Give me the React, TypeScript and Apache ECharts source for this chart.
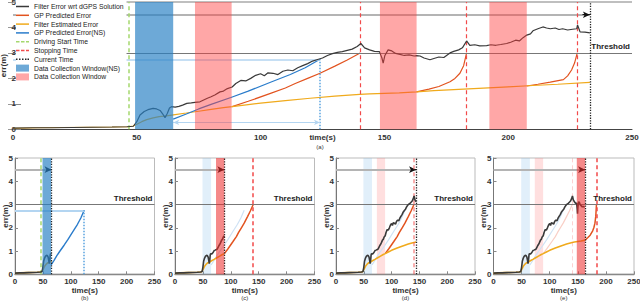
import React, { useEffect, useRef } from 'react';
import * as echarts from 'echarts';

type Pt = [number, number];

// ---- data (time in s, error in m) ----
const filterError: Pt[] = [
  [0, 0.05], [8, 0.06], [16, 0.06], [24, 0.07], [32, 0.08], [40, 0.09], [46, 0.1], [48.6, 0.12], [50, 0.3],
  [51.3, 0.56], [53, 0.7], [54.5, 0.77], [56.6, 0.82], [58, 0.8], [59.4, 0.74], [60.5, 0.6], [61.4, 0.46],
  [62.3, 0.62], [63.2, 0.84], [64, 0.89], [65.5, 0.87], [67, 0.9], [68.5, 0.95], [70.2, 1.02], [72, 1.04],
  [73.5, 1.06], [75.5, 1.08], [77, 1.15], [78.5, 1.22], [80, 1.28], [81.5, 1.35], [83.6, 1.47], [85, 1.5],
  [86.6, 1.6], [88.5, 1.66], [90, 1.8], [92, 1.92], [94, 1.9], [96, 2.0], [98, 2.12], [100, 2.18], [101.5, 2.1],
  [103, 2.22], [105, 2.2], [107, 2.15], [109, 2.28], [111, 2.33], [113, 2.3], [115, 2.42], [117, 2.5],
  [119, 2.58], [121, 2.68], [123, 2.74], [125, 2.8], [127, 2.9], [129, 2.97], [131, 3.02], [133, 3.05],
  [135, 3.1], [137, 3.15], [139, 3.25], [140.5, 3.37], [142, 3.2], [144, 3.12], [146, 3.06], [148, 3.05],
  [149, 2.8], [149.5, 2.6], [150.2, 2.9], [151.5, 3.12], [153, 3.08], [154.5, 2.98], [156.3, 2.94], [158, 2.9],
  [160, 2.92], [162, 2.88], [163, 2.89], [164.4, 2.88], [166, 2.8], [168.4, 2.73], [170, 2.78], [172, 2.84],
  [174, 2.82], [176.5, 3.0], [178, 3.06], [180, 3.12], [181.5, 3.2], [183.2, 3.47], [184.5, 3.3], [186.5, 3.32],
  [188.5, 3.28], [191.3, 3.29], [193, 3.32], [195, 3.3], [197, 3.33], [199.4, 3.37], [201, 3.42], [203, 3.5],
  [204.5, 3.47], [206, 3.6], [207.5, 3.7], [209, 3.75], [210, 3.87], [212, 3.95], [214, 4.02], [215.5, 3.98],
  [217, 3.95], [219, 3.98], [220.5, 3.92], [222, 3.95], [224, 3.9], [226, 3.93], [227.7, 3.95], [228, 4.1],
  [229, 3.83], [231, 3.82], [233, 3.79],
];
const filterEstimate: Pt[] = [
  [0, 0.04], [10, 0.06], [20, 0.07], [30, 0.08], [40, 0.09], [46.6, 0.1], [48.6, 0.13], [50, 0.2], [52, 0.3],
  [54, 0.38], [56.6, 0.45], [59, 0.5], [62, 0.53], [65.5, 0.58], [70, 0.64], [75, 0.71], [80, 0.78], [85, 0.85],
  [88.5, 0.89], [95, 0.97], [100, 1.03], [110, 1.13], [120, 1.22], [130, 1.3], [140, 1.37], [144, 1.39],
  [150, 1.41], [156, 1.43], [163, 1.47], [170, 1.52], [180, 1.57], [190, 1.62], [200, 1.67], [210, 1.72],
  [220, 1.77], [233, 1.84],
];
const gpPredictedNS: Pt[] = [
  [64.7, 0.4], [70, 0.6], [75, 0.8], [80, 0.98], [88, 1.25], [95, 1.5], [104, 1.85], [112, 2.15], [118, 2.42], [124, 2.75],
];
const gpPredicted1: Pt[] = [
  [88.5, 0.89], [95, 1.1], [104, 1.41], [110, 1.62], [114, 1.8], [119, 2.0], [124, 2.2], [130, 2.48], [135, 2.72], [140.2, 3.0],
];
const gpPredicted2: Pt[] = [
  [163, 1.47], [168, 1.58], [172, 1.68], [176.5, 1.87], [178.5, 2.0], [180.5, 2.2], [182, 2.5], [183.2, 3.0],
];
const gpPredicted3: Pt[] = [
  [207.5, 1.7], [212, 1.77], [217, 1.85], [222.3, 1.95], [224, 2.1], [225.6, 2.33], [226.8, 2.6], [227.9, 3.0],
];

const nsWindow: Pt = [49.3, 64.7];
const collectionWindows: Pt[] = [[73.5, 88.3], [148.2, 163], [192.4, 207.5]];
const drivingStart = 46.6;
const stoppingTimes = [140.2, 183.2, 227.9];
const nsStopTime = 124;
const nsLevel = 2.75;
const nsSpanLevel = 0.27;
const threshold = 3;
const horizonLevel = 4.5;
const currentTimes = [233, 65.5, 88.5, 144, 163];
const panelNames = ['(a)', '(b)', '(c)', '(d)', '(e)'];
const xRange = [0, 250, 50];
const yRange = [0, 5, 1];

const FONT = 'Liberation Sans, Arial, sans-serif';

const C = {
  err: '#3a3a3a',
  gp: '#e2531f',
  est: '#f0aa1c',
  ns: '#2a7ccb',
  nsFaint: '#cfe2f4',
  gpFaint: '#f9cfc6',
  green: '#a5d86e',
  stop: '#f24a4a',
  stopMid: 'rgba(242,74,74,0.45)',
  stopFaint: 'rgba(242,74,74,0.25)',
  cur: '#222',
  nsWin: 'rgba(40,128,196,0.68)',
  nsWinFaint: 'rgba(120,180,230,0.22)',
  win: 'rgba(255,60,60,0.45)',
  winStrong: 'rgba(236,40,40,0.55)',
  winFaint: 'rgba(255,110,110,0.22)',
  nsGuide: '#b3d5f1',
  nsDot: '#5aa2e0',
  horizon: '#b4b4b4',
  thr: '#777',
};

const grids = [
  { left: 13, top: 2, width: 619, height: 127.3 },
  { left: 15, top: 158, width: 139.5, height: 116.3 },
  { left: 175, top: 158, width: 139.5, height: 116.3 },
  { left: 336, top: 158, width: 139, height: 116.3 },
  { left: 493.5, top: 158, width: 140.5, height: 116.3 },
];

const ICON_LINE = 'path://M0,0M26,14M0,5.5h26v3h-26z';
const ICON_DASH = 'path://M0,0M26,14M0,5.5h7v3h-7zM10,5.5h7v3h-7zM20,5.5h6v3h-6z';
const ICON_DOT = 'path://M0,0M26,14M0,5.5h3v3h-3zM6,5.5h3v3h-3zM12,5.5h3v3h-3zM18,5.5h3v3h-3zM23,5.5h3v3h-3z';

const upTo = (d: Pt[], t: number) => d.filter((p) => p[0] <= t + 1e-9);

const lineS = (name: string, data: Pt[], g: number, color: string, width = 1.2, z = 3, type: any = 'solid') => ({
  type: 'line', name, data, xAxisIndex: g, yAxisIndex: g, symbol: 'none', silent: true, z,
  color, lineStyle: { color, width, type }, itemStyle: { color },
});

const ML = (data: any[], z = 4) => ({
  silent: true, symbol: ['none', 'none'], label: { show: false }, emphasis: { disabled: true }, z, data,
});
const MA = (wins: Pt[], color: string, z = 6) => ({
  silent: true, itemStyle: { color }, emphasis: { disabled: true }, z,
  data: wins.map((w) => [{ xAxis: w[0], itemStyle: { color } }, { xAxis: w[1] }]),
});
const vLine = (x: number, color: string, type: any, width = 1) => ({ xAxis: x, lineStyle: { color, type, width } });
const seg = (a: Pt, b: Pt, color: string, type: any, width: number, s0 = 'none', s1 = 'none', size: any = [5, 7]) => [
  { coord: a, symbol: s0, symbolSize: size, lineStyle: { color, type, width } },
  { coord: b, symbol: s1, symbolSize: size, lineStyle: { color, type, width } },
];
const thresholdLine = (g: number) => ({
  yAxis: threshold,
  lineStyle: { color: C.thr, type: 'solid', width: g === 0 ? 1.2 : 1 },
  label: {
    show: true, formatter: 'Threshold', position: 'insideEndTop', distance: 2,
    fontSize: 8, fontWeight: 'bold', color: '#222', fontFamily: FONT,
  },
});
const horizon = (t: number) => [
  seg([xRange[0], horizonLevel], [t, horizonLevel], C.horizon, 'solid', 2),
  seg([t - 3, horizonLevel], [t, horizonLevel], '#111', 'solid', 1, 'none', 'arrow', [5, 7]),
];
const DASH = [4, 3];

function buildOption() {
  const series: any[] = [];

  // ---------- (a) full run ----------
  const tA = currentTimes[0];
  series.push(
    { ...lineS('a-decor', [], 0, C.thr), z: 2, markLine: ML([
      { yAxis: yRange[1], lineStyle: { color: '#aaa', type: 'solid', width: 1.5 } },
      thresholdLine(0),
      ...horizon(tA),
    ]) },
    lineS('Filter Error wrt dGPS Solution', filterError, 0, C.err, 1.2, 4),
    lineS('GP Predicted Error', gpPredicted1, 0, C.gp, 1.2, 3),
    lineS('GP Predicted Error', gpPredicted2, 0, C.gp, 1.2, 3),
    lineS('GP Predicted Error', gpPredicted3, 0, C.gp, 1.2, 3),
    lineS('Filter Estimated Error', filterEstimate, 0, C.est, 1.2, 3),
    { ...lineS('GP Predicted Error(NS)', gpPredictedNS, 0, C.ns, 1.2, 3), markLine: ML([
      seg([xRange[0], nsLevel], [nsStopTime, nsLevel], C.nsGuide, 'solid', 1.5),
      seg([nsStopTime, yRange[0]], [nsStopTime, nsLevel], C.nsDot, 'dotted', 1.5),
      seg([nsWindow[1], nsSpanLevel], [nsStopTime, nsSpanLevel], C.nsGuide, 'solid', 1, 'arrow', 'arrow', [4, 6]),
    ]) },
    { ...lineS('Driving Start Time', [], 0, C.green, 1.5, 3, DASH), markLine: ML([vLine(drivingStart, C.green, DASH, 1.5)]) },
    { ...lineS('Stopping Time', [], 0, C.stop, 1.2, 3, DASH), markLine: ML(stoppingTimes.map((t) => vLine(t, C.stop, DASH, 1.2))) },
    { ...lineS('Current Time', [], 0, C.cur, 1.2, 3, 'dotted'), markLine: ML([vLine(tA, C.cur, 'dotted', 1.3)]) },
    { ...lineS('Data Collection Window(NS)', [], 0, C.nsWin), z: 5, markArea: MA([nsWindow], C.nsWin) },
    { ...lineS('Data Collection Window', [], 0, C.win), z: 5, markArea: MA(collectionWindows, C.win) },
  );

  // ---------- (b) ----------
  const tB = currentTimes[1];
  series.push(
    { ...lineS('b-decor', [], 1, C.thr), z: 2, markLine: ML([
      thresholdLine(1), ...horizon(tB),
      seg([xRange[0], nsLevel], [nsStopTime, nsLevel], C.nsGuide, 'solid', 2),
      seg([nsStopTime, yRange[0]], [nsStopTime, nsLevel], C.nsDot, 'dotted', 1.5),
      vLine(drivingStart, C.green, DASH, 1.5),
      vLine(tB, C.cur, 'dotted', 1.3),
    ]) },
    { ...lineS('b-win', [], 1, C.nsWin), z: 5, markArea: MA([nsWindow], C.nsWin) },
    lineS('b-ns', gpPredictedNS, 1, C.ns, 1.4, 3),
    lineS('b-est', upTo(filterEstimate, tB), 1, C.est, 1.6, 3),
    lineS('b-err', upTo(filterError, tB), 1, C.err, 1.6, 4),
  );

  // ---------- (c) ----------
  const tC = currentTimes[2];
  series.push(
    { ...lineS('c-decor', [], 2, C.thr), z: 2, markLine: ML([
      thresholdLine(2), ...horizon(tC),
      vLine(stoppingTimes[0], C.stop, DASH, 1.5),
      vLine(tC, C.cur, 'dotted', 1.3),
    ]) },
    { ...lineS('c-win0', [], 2, C.nsWinFaint), z: 1, markArea: MA([nsWindow], C.nsWinFaint, 1) },
    { ...lineS('c-win', [], 2, C.winStrong), z: 5, markArea: MA([collectionWindows[0]], C.winStrong) },
    lineS('c-ns', gpPredictedNS, 2, C.nsFaint, 1.2, 3),
    lineS('c-gp', gpPredicted1, 2, C.gp, 1.5, 3),
    lineS('c-est', upTo(filterEstimate, tC), 2, C.est, 1.6, 3),
    lineS('c-err', upTo(filterError, tC), 2, C.err, 1.6, 4),
  );

  // ---------- (d) ----------
  const tD = currentTimes[3];
  series.push(
    { ...lineS('d-decor', [], 3, C.thr), z: 2, markLine: ML([
      thresholdLine(3), ...horizon(tD),
      vLine(stoppingTimes[0], C.stopMid, DASH, 2),
      vLine(tD, C.cur, 'dotted', 1.3),
    ]) },
    { ...lineS('d-win0', [], 3, C.nsWinFaint), z: 1, markArea: MA([nsWindow], C.nsWinFaint, 1) },
    { ...lineS('d-win1', [], 3, C.winFaint), z: 1, markArea: MA([collectionWindows[0]], C.winFaint, 1) },
    lineS('d-ns', gpPredictedNS, 3, C.nsFaint, 1.2, 3),
    lineS('d-gp', gpPredicted1, 3, C.gp, 1.5, 3),
    lineS('d-est', upTo(filterEstimate, tD), 3, C.est, 1.6, 3),
    lineS('d-err', upTo(filterError, tD), 3, C.err, 1.6, 4),
  );

  // ---------- (e) ----------
  const tE = currentTimes[4];
  series.push(
    { ...lineS('e-decor', [], 4, C.thr), z: 2, markLine: ML([
      thresholdLine(4), ...horizon(tE),
      vLine(stoppingTimes[0], C.stopFaint, DASH, 1),
      vLine(stoppingTimes[1], C.stop, DASH, 1.5),
      vLine(tE, C.cur, 'dotted', 1.3),
    ]) },
    { ...lineS('e-win0', [], 4, C.nsWinFaint), z: 1, markArea: MA([nsWindow], C.nsWinFaint, 1) },
    { ...lineS('e-win1', [], 4, C.winFaint), z: 1, markArea: MA([collectionWindows[0]], C.winFaint, 1) },
    { ...lineS('e-win2', [], 4, C.winStrong), z: 5, markArea: MA([collectionWindows[1]], C.winStrong) },
    lineS('e-ns', gpPredictedNS, 4, C.nsFaint, 1.2, 3),
    lineS('e-gp1', gpPredicted1, 4, C.gpFaint, 1.2, 3),
    lineS('e-gp2', gpPredicted2, 4, C.gp, 1.5, 3),
    lineS('e-est', upTo(filterEstimate, tE), 4, C.est, 1.6, 3),
    lineS('e-err', upTo(filterError, tE), 4, C.err, 1.6, 4),
  );

  const axisText = { fontSize: 8, fontWeight: 'bold', color: '#333', fontFamily: FONT };

  const xAxis = grids.map((_, g) => ({
    type: 'value', gridIndex: g, min: xRange[0], max: xRange[1], interval: xRange[2],
    name: 'time(s)', nameLocation: 'middle', nameGap: g === 0 ? 4 : 12, nameTextStyle: axisText,
    nameMoveOverlap: false,
    axisLine: { show: true, onZero: false, lineStyle: { color: g === 0 ? '#444' : '#888', width: g === 0 ? 1 : 1.3 } },
    axisTick: { show: g > 0, inside: true, length: 3, lineStyle: { color: '#888' } },
    axisLabel: { margin: g === 0 ? 4 : 3, ...axisText },
    splitLine: { show: false },
  }));

  const yAxis: any[] = grids.map((_, g) => ({
    type: 'value', gridIndex: g, min: yRange[0], max: yRange[1], interval: yRange[2],
    name: 'err(m)', nameLocation: 'middle', nameRotate: 90, nameGap: 6, nameTextStyle: axisText,
    nameMoveOverlap: false,
    axisLine: { show: g > 0, onZero: false, lineStyle: { color: '#777' } },
    axisTick: { show: true, inside: true, length: g === 0 ? 8 : 3, lineStyle: { color: '#888' } },
    axisLabel: g === 0 ? { margin: -3, ...axisText } : { margin: 2, ...axisText },
    splitLine: { show: false },
  }));
  yAxis.push({
    type: 'value', gridIndex: 0, position: 'right', min: yRange[0], max: yRange[1], interval: yRange[2],
    axisLine: { show: false }, axisTick: { show: true, inside: true, length: 5, lineStyle: { color: '#999' } },
    axisLabel: { show: false }, splitLine: { show: false },
  });

  const legendItems = [
    { name: 'Filter Error wrt dGPS Solution', icon: ICON_LINE },
    { name: 'GP Predicted Error', icon: ICON_LINE },
    { name: 'Filter Estimated Error', icon: ICON_LINE },
    { name: 'GP Predicted Error(NS)', icon: ICON_LINE },
    { name: 'Driving Start Time', icon: ICON_DASH },
    { name: 'Stopping Time', icon: ICON_DASH },
    { name: 'Current Time', icon: ICON_DOT },
    { name: 'Data Collection Window(NS)', icon: 'rect' },
    { name: 'Data Collection Window', icon: 'rect' },
  ];

  return {
    animation: false,
    backgroundColor: '#fff',
    textStyle: { fontFamily: FONT },
    grid: grids.map((gr, g) => ({
      ...gr, show: g > 0, borderColor: '#bbb', borderWidth: 1, backgroundColor: 'transparent',
      containLabel: false, outerBoundsMode: 'none',
    })),
    xAxis,
    yAxis,
    legend: {
      data: legendItems,
      z: 20,
      orient: 'vertical', left: 16, top: 1, padding: [2, 3, 2, 0],
      itemWidth: 13, itemHeight: 7, itemGap: 1.8,
      backgroundColor: '#fff', selectedMode: false,
      textStyle: { fontSize: 6.8, lineHeight: 7, color: '#222', fontFamily: FONT },
    },
    graphic: panelNames.map((t, i) => ({
      type: 'text',
      x: i === 0 ? 320 : grids[i].left + grids[i].width / 2,
      y: i === 0 ? 147 : 298,
      style: { text: t, fontSize: 6, fill: '#333', textAlign: 'center', textVerticalAlign: 'middle', fontFamily: FONT },
    })),
    series,
  };
}

export default function App() {
  const ref = useRef<HTMLDivElement>(null);
  useEffect(() => {
    if (!ref.current) return;
    const chart = echarts.init(ref.current, null, { renderer: 'svg' });
    chart.setOption(buildOption() as any);
    return () => chart.dispose();
  }, []);
  return (
    <div
      ref={ref}
      style={{ position: 'fixed', left: 0, top: 0, width: 640, height: 304, background: '#fff' }}
    />
  );
}
